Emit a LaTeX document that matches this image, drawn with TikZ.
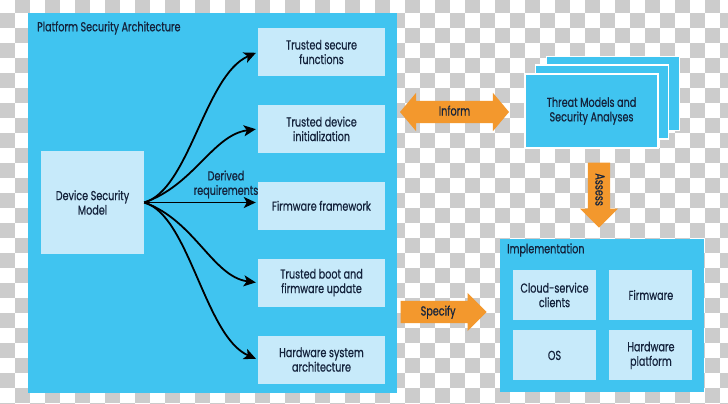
\documentclass[tikz,border=0pt]{standalone}
\usepackage{fontspec}
\setmainfont{Poppins}[FakeStretch=0.74, FakeBold=0.6]
\usetikzlibrary{positioning}
\usetikzlibrary{calc}
\usetikzlibrary{arrows.meta}
\usetikzlibrary{shapes.arrows}
\definecolor{psaBlue}{RGB}{64,196,240}
\definecolor{psaPale}{RGB}{199,234,250}
\definecolor{psaOrange}{RGB}{243,152,45}
\definecolor{psaText}{RGB}{20,35,60}
\definecolor{checkGray}{RGB}{204,204,204}

\begin{document}
\begin{tikzpicture}[x=1pt, y=-1pt,
    font=\fontsize{13}{14.5}\selectfont,
    area/.style={rectangle, fill=psaBlue, inner sep=0pt, anchor=north west},
    feature/.style={rectangle, fill=psaPale, text=psaText, align=center, inner sep=0pt, minimum width=127pt, minimum height=48pt},
    cell/.style={feature, minimum width=83pt, minimum height=50pt},
    heading/.style={text=psaText, anchor=west, inner sep=0pt},
    threat/.style={rectangle, fill=psaBlue, draw=white, line width=1.2pt, minimum width=133pt, minimum height=74pt},
    flow/.style={fill=psaOrange, text=psaText, inner xsep=4pt, inner ysep=5pt, text height=9.5pt, text depth=2.5pt},
    derive/.style={-{Stealth[length=12pt, width=11pt, inset=3pt]}, line width=1.8pt, shorten >=2pt},
    ]
        \useasboundingbox (0,0) rectangle (728,404);
        \clip (0,0) rectangle (728,404);

        % transparency checkerboard
        \fill[white] (0,0) rectangle (728,404);
        \foreach \i in {0,...,48}
            \foreach \j in {0,...,27}
            {
                \pgfmathtruncatemacro\odd{mod(\i+\j,2)}
                \ifnum\odd=1 \fill[checkGray] (15*\i,15*\j-2) rectangle ++(15,15); \fi
            }

        % platform security architecture
        \node[area, minimum width=369pt, minimum height=380pt] (psa) at (28,13) {};
        \node[heading] (psatitle) at (37,28) {Platform Security Architecture};

        \node[feature] (tsf) at (321.5,52) {Trusted secure\\functions};
        \node[feature, below=28.5pt of tsf] (tdi) {Trusted device\\initialization};
        \node[feature, below=28.5pt of tdi] (ffw) {Firmware framework};
        \node[feature, below=28.5pt of ffw] (tbf) {Trusted boot and\\firmware update};
        \node[feature, below=28.5pt of tbf] (hsa) {Hardware system\\architecture};

        \node[feature, minimum width=103pt, minimum height=103pt] (dsm) at (92.5,202.5) {Device Security\\Model};

        \draw[derive] (dsm.east) .. controls +(45,-12.5) and +(-53,23) .. (tsf.west);
        \draw[derive] (dsm.east) .. controls +(50,-17.5) and +(-45,6) .. (tdi.west);
        \draw[derive] (dsm.east) -- (dsm.east -| ffw.west)
            node[pos=0.72, above, align=center, text=psaText] (derived) {Derived\\requirements};
        \draw[derive] (dsm.east) .. controls +(50,17.5) and +(-45,-6) .. (tbf.west);
        \draw[derive] (dsm.east) .. controls +(45,12.5) and +(-53,-23) .. (hsa.west);

        % threat models
        \node[threat] (back) at (613,93.5) {};
        \node[threat] (mid) at (602,102) {};
        \node[threat, text=psaText, align=center] (threat) at (591.5,111) {Threat Models and\\Security Analyses};

        % implementation
        \node[area, minimum width=204pt, minimum height=153pt] (impl) at (500,239) {};
        \node[heading] (impltitle) at (507,250) {Implementation};
        \node[cell] (cloud) at (554.5,295) {Cloud-service\\clients};
        \node[cell, right=13pt of cloud] (fwr) {Firmware};
        \node[cell, below=10pt of cloud] (os) {OS};
        \node[cell, below=10pt of fwr] (hwp) {Hardware\\platform};

        % orange arrows
        \node[flow, double arrow, minimum height=109pt, double arrow head extend=8pt, double arrow tip angle=100] (inform) at (454.5,112) {Inform};
        \node[flow, single arrow, minimum height=86pt, single arrow head extend=8pt, anchor=tip] (specify) at (487,312) {Specify};
        \node[flow, single arrow, rotate=-90, minimum height=65pt, single arrow head extend=8pt, anchor=tip] (assess) at (599,228) {Assess};
    \end{tikzpicture}
\end{document}
